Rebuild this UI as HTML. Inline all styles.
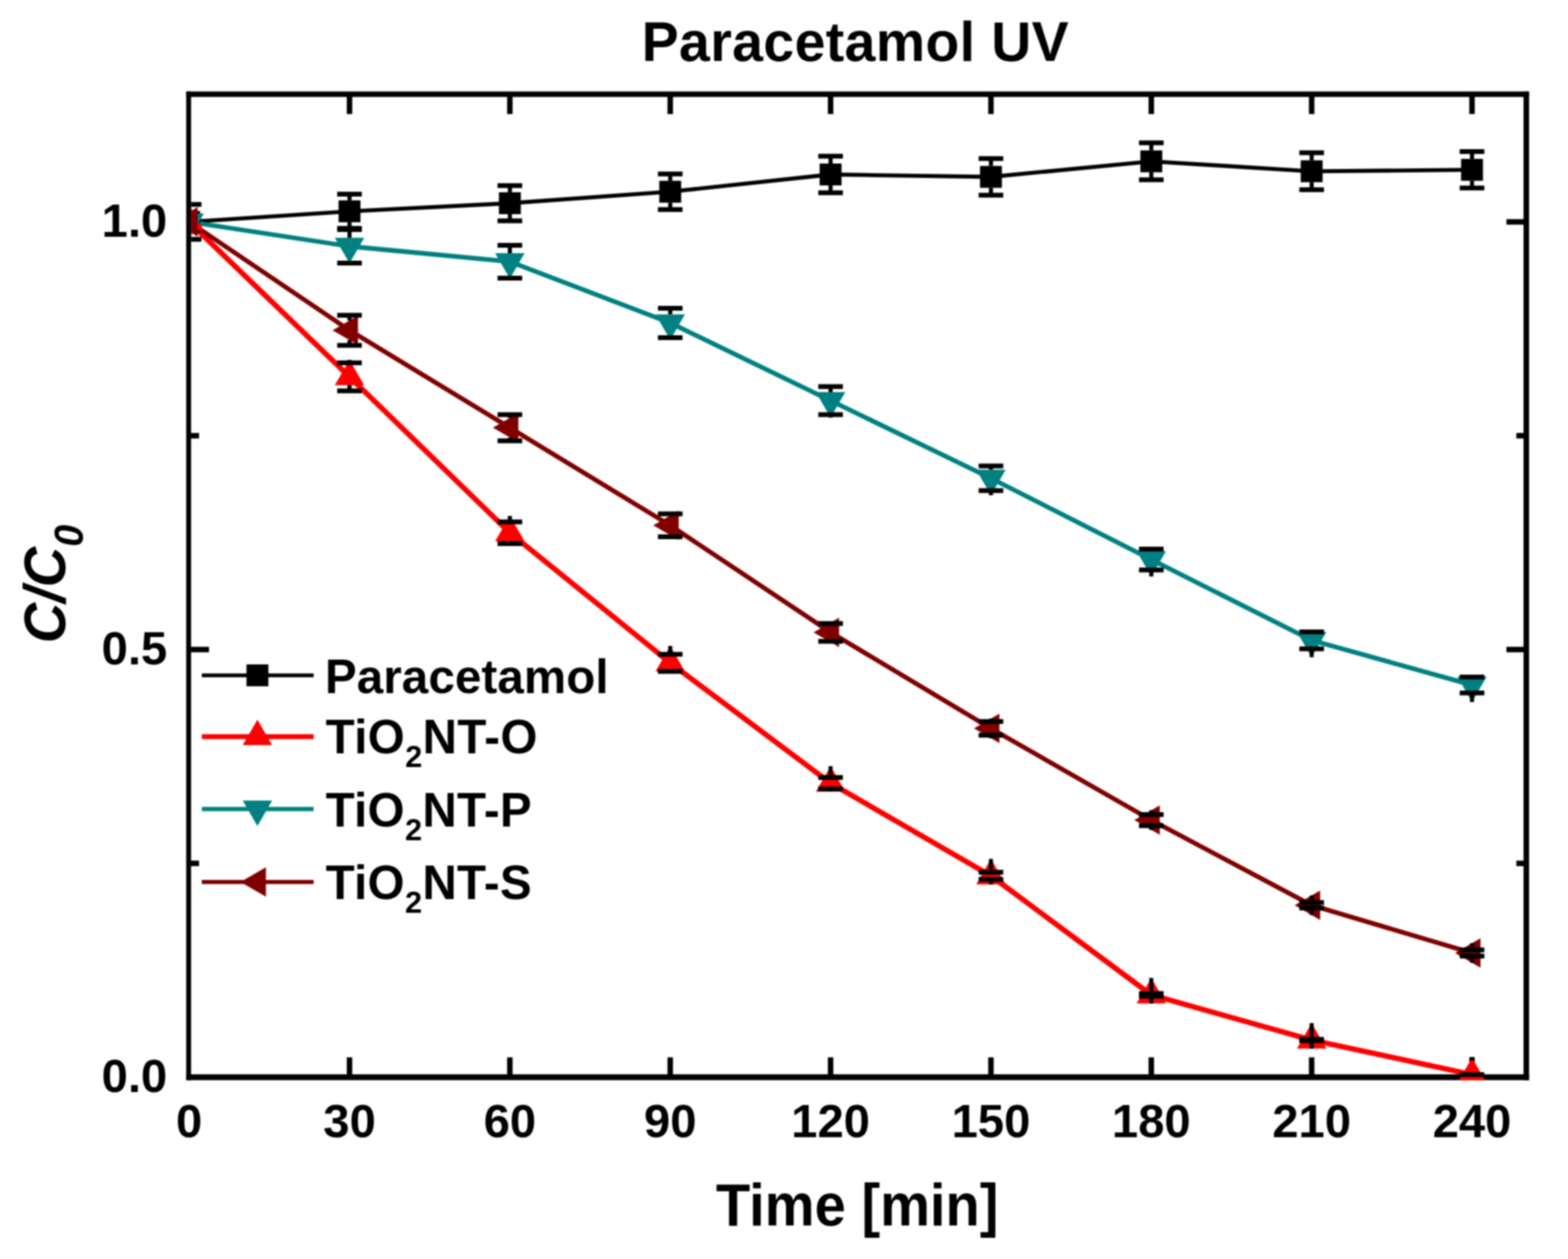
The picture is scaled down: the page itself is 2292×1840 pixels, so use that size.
<!DOCTYPE html>
<html><head><meta charset="utf-8"><title>Paracetamol UV</title>
<style>html,body{margin:0;padding:0;background:#fff;}body{width:2292px;height:1840px;overflow:hidden;}svg{display:block;filter:blur(0.9px);}</style>
</head><body>
<svg width="2292" height="1840" viewBox="0 0 2292 1840">
<defs><clipPath id="pc"><rect x="279.3" y="141.7" width="1947.7" height="1436.8"/></clipPath></defs>
<rect width="2292" height="1840" fill="#fff"/>
<g fill="#000">
<rect x="272.2" y="133.7" width="7.1" height="1445"/>
<rect x="272.2" y="133.7" width="1963" height="8"/>
<rect x="2227" y="133.7" width="8.1" height="1445"/>
<rect x="272.2" y="1570.1" width="1963" height="8.5"/>
</g>
<g stroke="#000" stroke-width="8"><line x1="510.9" y1="1574.3" x2="510.9" y2="1545.3"/><line x1="510.9" y1="137.7" x2="510.9" y2="166.7"/><line x1="745.3" y1="1574.3" x2="745.3" y2="1545.3"/><line x1="745.3" y1="137.7" x2="745.3" y2="166.7"/><line x1="979.7" y1="1574.3" x2="979.7" y2="1545.3"/><line x1="979.7" y1="137.7" x2="979.7" y2="166.7"/><line x1="1214.1" y1="1574.3" x2="1214.1" y2="1545.3"/><line x1="1214.1" y1="137.7" x2="1214.1" y2="166.7"/><line x1="1448.5" y1="1574.3" x2="1448.5" y2="1545.3"/><line x1="1448.5" y1="137.7" x2="1448.5" y2="166.7"/><line x1="1682.9" y1="1574.3" x2="1682.9" y2="1545.3"/><line x1="1682.9" y1="137.7" x2="1682.9" y2="166.7"/><line x1="1917.3" y1="1574.3" x2="1917.3" y2="1545.3"/><line x1="1917.3" y1="137.7" x2="1917.3" y2="166.7"/><line x1="2151.7" y1="1574.3" x2="2151.7" y2="1545.3"/><line x1="2151.7" y1="137.7" x2="2151.7" y2="166.7"/><line x1="276.5" y1="1261.8" x2="291" y2="1261.8"/><line x1="2231" y1="1261.8" x2="2216.5" y2="1261.8"/><line x1="276.5" y1="949.3" x2="305.5" y2="949.3"/><line x1="2231" y1="949.3" x2="2202" y2="949.3"/><line x1="276.5" y1="636.8" x2="291" y2="636.8"/><line x1="2231" y1="636.8" x2="2216.5" y2="636.8"/><line x1="276.5" y1="324.3" x2="305.5" y2="324.3"/><line x1="2231" y1="324.3" x2="2202" y2="324.3"/></g>
<g clip-path="url(#pc)">
<polyline points="276.5,324.3 510.9,308.8 745.3,297 979.7,280.2 1214.1,255 1448.5,258.5 1682.9,235.8 1917.3,250.3 2151.7,248.2" fill="none" stroke="#000000" stroke-width="5.8" stroke-linejoin="round"/>
<polyline points="276.5,324.3 510.9,550.7 745.3,778.7 979.7,968.8 1214.1,1144.6 1448.5,1280 1682.9,1454 1917.3,1520 2151.7,1570.5" fill="none" stroke="#ff0000" stroke-width="7.8" stroke-linejoin="round"/>
<polyline points="276.5,324.3 510.9,360 745.3,382.4 979.7,471.9 1214.1,585.5 1448.5,699 1682.9,817.8 1917.3,935.8 2151.7,1001.1" fill="none" stroke="#008080" stroke-width="6.8" stroke-linejoin="round"/>
<polyline points="276.5,324.3 510.9,482.7 745.3,625.1 979.7,767.8 1214.1,924.2 1448.5,1064.6 1682.9,1198.6 1917.3,1323 2151.7,1392.8" fill="none" stroke="#800000" stroke-width="6.8" stroke-linejoin="round"/>
<rect x="260.5" y="308.3" width="32" height="32" fill="#000000"/>
<rect x="494.9" y="292.8" width="32" height="32" fill="#000000"/>
<rect x="729.3" y="281" width="32" height="32" fill="#000000"/>
<rect x="963.7" y="264.2" width="32" height="32" fill="#000000"/>
<rect x="1198.1" y="239" width="32" height="32" fill="#000000"/>
<rect x="1432.5" y="242.5" width="32" height="32" fill="#000000"/>
<rect x="1666.9" y="219.8" width="32" height="32" fill="#000000"/>
<rect x="1901.3" y="234.3" width="32" height="32" fill="#000000"/>
<rect x="2135.7" y="232.2" width="32" height="32" fill="#000000"/>
<g stroke="#000" stroke-linecap="butt">
<line x1="276.5" y1="298.8" x2="276.5" y2="308.3" stroke-width="6"/><line x1="276.5" y1="340.3" x2="276.5" y2="349.8" stroke-width="6"/><line x1="258.5" y1="298.8" x2="294.5" y2="298.8" stroke-width="7"/><line x1="258.5" y1="349.8" x2="294.5" y2="349.8" stroke-width="7"/>
<line x1="510.9" y1="283.8" x2="510.9" y2="292.8" stroke-width="6"/><line x1="510.9" y1="324.8" x2="510.9" y2="333.8" stroke-width="6"/><line x1="492.9" y1="283.8" x2="528.9" y2="283.8" stroke-width="7"/><line x1="492.9" y1="333.8" x2="528.9" y2="333.8" stroke-width="7"/>
<line x1="745.3" y1="271.3" x2="745.3" y2="281" stroke-width="6"/><line x1="745.3" y1="313" x2="745.3" y2="322.7" stroke-width="6"/><line x1="727.3" y1="271.3" x2="763.3" y2="271.3" stroke-width="7"/><line x1="727.3" y1="322.7" x2="763.3" y2="322.7" stroke-width="7"/>
<line x1="979.7" y1="254.2" x2="979.7" y2="264.2" stroke-width="6"/><line x1="979.7" y1="296.2" x2="979.7" y2="306.2" stroke-width="6"/><line x1="961.7" y1="254.2" x2="997.7" y2="254.2" stroke-width="7"/><line x1="961.7" y1="306.2" x2="997.7" y2="306.2" stroke-width="7"/>
<line x1="1214.1" y1="228.3" x2="1214.1" y2="239" stroke-width="6"/><line x1="1214.1" y1="271" x2="1214.1" y2="281.7" stroke-width="6"/><line x1="1196.1" y1="228.3" x2="1232.1" y2="228.3" stroke-width="7"/><line x1="1196.1" y1="281.7" x2="1232.1" y2="281.7" stroke-width="7"/>
<line x1="1448.5" y1="231.8" x2="1448.5" y2="242.5" stroke-width="6"/><line x1="1448.5" y1="274.5" x2="1448.5" y2="285.2" stroke-width="6"/><line x1="1430.5" y1="231.8" x2="1466.5" y2="231.8" stroke-width="7"/><line x1="1430.5" y1="285.2" x2="1466.5" y2="285.2" stroke-width="7"/>
<line x1="1682.9" y1="208.8" x2="1682.9" y2="219.8" stroke-width="6"/><line x1="1682.9" y1="251.8" x2="1682.9" y2="262.8" stroke-width="6"/><line x1="1664.9" y1="208.8" x2="1700.9" y2="208.8" stroke-width="7"/><line x1="1664.9" y1="262.8" x2="1700.9" y2="262.8" stroke-width="7"/>
<line x1="1917.3" y1="223.3" x2="1917.3" y2="234.3" stroke-width="6"/><line x1="1917.3" y1="266.3" x2="1917.3" y2="277.3" stroke-width="6"/><line x1="1899.3" y1="223.3" x2="1935.3" y2="223.3" stroke-width="7"/><line x1="1899.3" y1="277.3" x2="1935.3" y2="277.3" stroke-width="7"/>
<line x1="2151.7" y1="221.6" x2="2151.7" y2="232.2" stroke-width="6"/><line x1="2151.7" y1="264.2" x2="2151.7" y2="274.8" stroke-width="6"/><line x1="2133.7" y1="221.6" x2="2169.7" y2="221.6" stroke-width="7"/><line x1="2133.7" y1="274.8" x2="2169.7" y2="274.8" stroke-width="7"/>
</g>
<polygon points="276.5,299.5 298,336.7 255,336.7" fill="#ff0000"/>
<polygon points="510.9,525.9 532.4,563.1 489.4,563.1" fill="#ff0000"/>
<polygon points="745.3,753.9 766.8,791.1 723.8,791.1" fill="#ff0000"/>
<polygon points="979.7,944 1001.2,981.2 958.2,981.2" fill="#ff0000"/>
<polygon points="1214.1,1119.8 1235.6,1157 1192.6,1157" fill="#ff0000"/>
<polygon points="1448.5,1255.2 1470,1292.4 1427,1292.4" fill="#ff0000"/>
<polygon points="1682.9,1429.2 1704.4,1466.4 1661.4,1466.4" fill="#ff0000"/>
<polygon points="1917.3,1495.2 1938.8,1532.4 1895.8,1532.4" fill="#ff0000"/>
<polygon points="2151.7,1545.7 2173.2,1582.9 2130.2,1582.9" fill="#ff0000"/>
<g stroke="#000" stroke-linecap="butt">
<line x1="510.9" y1="525.9" x2="510.9" y2="530.2" stroke-width="6"/><line x1="510.9" y1="563.1" x2="510.9" y2="571.2" stroke-width="6"/><line x1="492.9" y1="530.2" x2="528.9" y2="530.2" stroke-width="7"/><line x1="492.9" y1="571.2" x2="528.9" y2="571.2" stroke-width="7"/>
<line x1="745.3" y1="753.9" x2="745.3" y2="762.8" stroke-width="6"/><line x1="745.3" y1="791.1" x2="745.3" y2="794.6" stroke-width="6"/><line x1="727.3" y1="762.8" x2="763.3" y2="762.8" stroke-width="7"/><line x1="727.3" y1="794.6" x2="763.3" y2="794.6" stroke-width="7"/>
<line x1="979.7" y1="944" x2="979.7" y2="956.3" stroke-width="6"/><line x1="961.7" y1="956.3" x2="997.7" y2="956.3" stroke-width="7"/><line x1="961.7" y1="981.3" x2="997.7" y2="981.3" stroke-width="7"/>
<line x1="1214.1" y1="1119.8" x2="1214.1" y2="1136.2" stroke-width="6"/><line x1="1214.1" y1="1153" x2="1214.1" y2="1157" stroke-width="6"/><line x1="1196.1" y1="1136.2" x2="1232.1" y2="1136.2" stroke-width="7"/><line x1="1196.1" y1="1153" x2="1232.1" y2="1153" stroke-width="7"/>
<line x1="1448.5" y1="1255.2" x2="1448.5" y2="1274.8" stroke-width="6"/><line x1="1448.5" y1="1285.2" x2="1448.5" y2="1292.4" stroke-width="6"/><line x1="1430.5" y1="1274.8" x2="1466.5" y2="1274.8" stroke-width="7"/><line x1="1430.5" y1="1285.2" x2="1466.5" y2="1285.2" stroke-width="7"/>
<line x1="1682.9" y1="1429.2" x2="1682.9" y2="1452" stroke-width="6"/><line x1="1682.9" y1="1456" x2="1682.9" y2="1466.4" stroke-width="6"/><line x1="1664.9" y1="1452" x2="1700.9" y2="1452" stroke-width="7"/><line x1="1664.9" y1="1456" x2="1700.9" y2="1456" stroke-width="7"/>
<line x1="1917.3" y1="1495.2" x2="1917.3" y2="1519" stroke-width="6"/><line x1="1917.3" y1="1521" x2="1917.3" y2="1532.4" stroke-width="6"/><line x1="1899.3" y1="1519" x2="1935.3" y2="1519" stroke-width="7"/><line x1="1899.3" y1="1521" x2="1935.3" y2="1521" stroke-width="7"/>
<line x1="2151.7" y1="1544.7" x2="2151.7" y2="1549.7" stroke-width="6"/>
<line x1="2133.7" y1="1570.5" x2="2169.7" y2="1570.5" stroke-width="7"/>
</g>
<polygon points="276.5,349.1 298,311.9 255,311.9" fill="#008080"/>
<polygon points="510.9,384.8 532.4,347.6 489.4,347.6" fill="#008080"/>
<polygon points="745.3,407.2 766.8,370 723.8,370" fill="#008080"/>
<polygon points="979.7,496.7 1001.2,459.5 958.2,459.5" fill="#008080"/>
<polygon points="1214.1,610.3 1235.6,573.1 1192.6,573.1" fill="#008080"/>
<polygon points="1448.5,723.8 1470,686.6 1427,686.6" fill="#008080"/>
<polygon points="1682.9,842.6 1704.4,805.4 1661.4,805.4" fill="#008080"/>
<polygon points="1917.3,960.6 1938.8,923.4 1895.8,923.4" fill="#008080"/>
<polygon points="2151.7,1025.9 2173.2,988.7 2130.2,988.7" fill="#008080"/>
<g stroke="#000" stroke-linecap="butt">
<line x1="510.9" y1="335.5" x2="510.9" y2="347.6" stroke-width="6"/><line x1="492.9" y1="335.5" x2="528.9" y2="335.5" stroke-width="7"/><line x1="492.9" y1="384.5" x2="528.9" y2="384.5" stroke-width="7"/>
<line x1="745.3" y1="358.4" x2="745.3" y2="370" stroke-width="6"/><line x1="745.3" y1="406.4" x2="745.3" y2="407.2" stroke-width="6"/><line x1="727.3" y1="358.4" x2="763.3" y2="358.4" stroke-width="7"/><line x1="727.3" y1="406.4" x2="763.3" y2="406.4" stroke-width="7"/>
<line x1="979.7" y1="450.4" x2="979.7" y2="459.5" stroke-width="6"/><line x1="979.7" y1="493.4" x2="979.7" y2="496.7" stroke-width="6"/><line x1="961.7" y1="450.4" x2="997.7" y2="450.4" stroke-width="7"/><line x1="961.7" y1="493.4" x2="997.7" y2="493.4" stroke-width="7"/>
<line x1="1214.1" y1="565" x2="1214.1" y2="573.1" stroke-width="6"/><line x1="1214.1" y1="606" x2="1214.1" y2="610.3" stroke-width="6"/><line x1="1196.1" y1="565" x2="1232.1" y2="565" stroke-width="7"/><line x1="1196.1" y1="606" x2="1232.1" y2="606" stroke-width="7"/>
<line x1="1448.5" y1="681" x2="1448.5" y2="686.6" stroke-width="6"/><line x1="1448.5" y1="717" x2="1448.5" y2="723.8" stroke-width="6"/><line x1="1430.5" y1="681" x2="1466.5" y2="681" stroke-width="7"/><line x1="1430.5" y1="717" x2="1466.5" y2="717" stroke-width="7"/>
<line x1="1682.9" y1="802.5" x2="1682.9" y2="805.4" stroke-width="6"/><line x1="1682.9" y1="833.1" x2="1682.9" y2="842.6" stroke-width="6"/><line x1="1664.9" y1="802.5" x2="1700.9" y2="802.5" stroke-width="7"/><line x1="1664.9" y1="833.1" x2="1700.9" y2="833.1" stroke-width="7"/>
<line x1="1917.3" y1="948.2" x2="1917.3" y2="960.6" stroke-width="6"/><line x1="1899.3" y1="923.4" x2="1935.3" y2="923.4" stroke-width="7"/><line x1="1899.3" y1="948.2" x2="1935.3" y2="948.2" stroke-width="7"/>
<line x1="2151.7" y1="988.7" x2="2151.7" y2="989.5" stroke-width="6"/><line x1="2151.7" y1="1012.7" x2="2151.7" y2="1025.9" stroke-width="6"/><line x1="2133.7" y1="989.5" x2="2169.7" y2="989.5" stroke-width="7"/><line x1="2133.7" y1="1012.7" x2="2169.7" y2="1012.7" stroke-width="7"/>
</g>
<polygon points="251.7,324.3 288.9,302.8 288.9,345.8" fill="#800000"/>
<polygon points="486.1,482.7 523.3,461.2 523.3,504.2" fill="#800000"/>
<polygon points="720.5,625.1 757.7,603.6 757.7,646.6" fill="#800000"/>
<polygon points="954.9,767.8 992.1,746.3 992.1,789.3" fill="#800000"/>
<polygon points="1189.3,924.2 1226.5,902.7 1226.5,945.7" fill="#800000"/>
<polygon points="1423.7,1064.6 1460.9,1043.1 1460.9,1086.1" fill="#800000"/>
<polygon points="1658.1,1198.6 1695.3,1177.1 1695.3,1220.1" fill="#800000"/>
<polygon points="1892.5,1323 1929.7,1301.5 1929.7,1344.5" fill="#800000"/>
<polygon points="2126.9,1392.8 2164.1,1371.3 2164.1,1414.3" fill="#800000"/>
<g stroke="#000" stroke-linecap="butt">
<line x1="510.9" y1="460.7" x2="510.9" y2="468.4" stroke-width="6"/><line x1="510.9" y1="497" x2="510.9" y2="504.7" stroke-width="6"/><line x1="492.9" y1="460.7" x2="528.9" y2="460.7" stroke-width="7"/><line x1="492.9" y1="504.7" x2="528.9" y2="504.7" stroke-width="7"/>
<line x1="745.3" y1="605.9" x2="745.3" y2="610.8" stroke-width="6"/><line x1="745.3" y1="639.4" x2="745.3" y2="644.3" stroke-width="6"/><line x1="727.3" y1="605.9" x2="763.3" y2="605.9" stroke-width="7"/><line x1="727.3" y1="644.3" x2="763.3" y2="644.3" stroke-width="7"/>
<line x1="979.7" y1="751.1" x2="979.7" y2="753.5" stroke-width="6"/><line x1="979.7" y1="782.1" x2="979.7" y2="784.5" stroke-width="6"/><line x1="961.7" y1="751.1" x2="997.7" y2="751.1" stroke-width="7"/><line x1="961.7" y1="784.5" x2="997.7" y2="784.5" stroke-width="7"/>
<line x1="1214.1" y1="909.9" x2="1214.1" y2="911.2" stroke-width="6"/><line x1="1214.1" y1="937.2" x2="1214.1" y2="938.5" stroke-width="6"/><line x1="1196.1" y1="911.2" x2="1232.1" y2="911.2" stroke-width="7"/><line x1="1196.1" y1="937.2" x2="1232.1" y2="937.2" stroke-width="7"/>
<line x1="1448.5" y1="1050.3" x2="1448.5" y2="1054.6" stroke-width="6"/><line x1="1448.5" y1="1074.6" x2="1448.5" y2="1078.9" stroke-width="6"/><line x1="1430.5" y1="1054.6" x2="1466.5" y2="1054.6" stroke-width="7"/><line x1="1430.5" y1="1074.6" x2="1466.5" y2="1074.6" stroke-width="7"/>
<line x1="1682.9" y1="1184.3" x2="1682.9" y2="1190.5" stroke-width="6"/><line x1="1682.9" y1="1206.7" x2="1682.9" y2="1212.9" stroke-width="6"/><line x1="1664.9" y1="1190.5" x2="1700.9" y2="1190.5" stroke-width="7"/><line x1="1664.9" y1="1206.7" x2="1700.9" y2="1206.7" stroke-width="7"/>
<line x1="1917.3" y1="1308.7" x2="1917.3" y2="1319" stroke-width="6"/><line x1="1917.3" y1="1327" x2="1917.3" y2="1337.3" stroke-width="6"/><line x1="1899.3" y1="1319" x2="1935.3" y2="1319" stroke-width="7"/><line x1="1899.3" y1="1327" x2="1935.3" y2="1327" stroke-width="7"/>
<line x1="2151.7" y1="1378.5" x2="2151.7" y2="1388.3" stroke-width="6"/><line x1="2151.7" y1="1397.3" x2="2151.7" y2="1407.1" stroke-width="6"/><line x1="2133.7" y1="1388.3" x2="2169.7" y2="1388.3" stroke-width="7"/><line x1="2133.7" y1="1397.3" x2="2169.7" y2="1397.3" stroke-width="7"/>
</g>
</g>
<text x="276.5" y="1661.5" font-size="69" text-anchor="middle" font-family="'Liberation Sans', Arial, sans-serif" font-weight="bold">0</text>
<text x="510.9" y="1661.5" font-size="69" text-anchor="middle" font-family="'Liberation Sans', Arial, sans-serif" font-weight="bold">30</text>
<text x="745.3" y="1661.5" font-size="69" text-anchor="middle" font-family="'Liberation Sans', Arial, sans-serif" font-weight="bold">60</text>
<text x="979.7" y="1661.5" font-size="69" text-anchor="middle" font-family="'Liberation Sans', Arial, sans-serif" font-weight="bold">90</text>
<text x="1214.1" y="1661.5" font-size="69" text-anchor="middle" font-family="'Liberation Sans', Arial, sans-serif" font-weight="bold">120</text>
<text x="1448.5" y="1661.5" font-size="69" text-anchor="middle" font-family="'Liberation Sans', Arial, sans-serif" font-weight="bold">150</text>
<text x="1682.9" y="1661.5" font-size="69" text-anchor="middle" font-family="'Liberation Sans', Arial, sans-serif" font-weight="bold">180</text>
<text x="1917.3" y="1661.5" font-size="69" text-anchor="middle" font-family="'Liberation Sans', Arial, sans-serif" font-weight="bold">210</text>
<text x="2151.7" y="1661.5" font-size="69" text-anchor="middle" font-family="'Liberation Sans', Arial, sans-serif" font-weight="bold">240</text>
<text x="244.5" y="1595.9" font-size="69" text-anchor="end" font-family="'Liberation Sans', Arial, sans-serif" font-weight="bold">0.0</text>
<text x="244.5" y="970.9" font-size="69" text-anchor="end" font-family="'Liberation Sans', Arial, sans-serif" font-weight="bold">0.5</text>
<text x="244.5" y="345.9" font-size="69" text-anchor="end" font-family="'Liberation Sans', Arial, sans-serif" font-weight="bold">1.0</text>
<text x="1250" y="88.9" font-size="81" text-anchor="middle" textLength="624" lengthAdjust="spacing" font-family="'Liberation Sans', Arial, sans-serif" font-weight="bold">Paracetamol UV</text>
<text x="1253" y="1791.4" font-size="86.5" text-anchor="middle" textLength="413" lengthAdjust="spacingAndGlyphs" font-family="'Liberation Sans', Arial, sans-serif" font-weight="bold">Time [min]</text>
<text transform="translate(95,853.5) rotate(-90)" font-size="85" text-anchor="middle" textLength="173" lengthAdjust="spacingAndGlyphs" font-style="italic" font-family="'Liberation Sans', Arial, sans-serif" font-weight="bold">C/C<tspan font-size="60" dy="26">0</tspan></text>
<line x1="295" y1="987" x2="458.5" y2="987" stroke="#000000" stroke-width="5.5"/>
<rect x="360.3" y="971" width="32" height="32" fill="#000000"/>
<text x="474.9" y="1012.8" font-size="69.5" textLength="414.7" lengthAdjust="spacing" font-family="'Liberation Sans', Arial, sans-serif" font-weight="bold">Paracetamol</text>
<line x1="295" y1="1076.6" x2="458.5" y2="1076.6" stroke="#ff0000" stroke-width="7.2"/>
<polygon points="376.3,1051.8 397.8,1089 354.8,1089" fill="#ff0000"/>
<text x="475.9" y="1101.2" font-size="69.5" textLength="309.7" lengthAdjust="spacing" font-family="'Liberation Sans', Arial, sans-serif" font-weight="bold">TiO<tspan font-size="45" dy="20">2</tspan><tspan dy="-20">NT-O</tspan></text>
<line x1="295" y1="1182.4" x2="458.5" y2="1182.4" stroke="#008080" stroke-width="6.2"/>
<polygon points="376.3,1207.2 397.8,1170 354.8,1170" fill="#008080"/>
<text x="475.9" y="1207.8" font-size="69.5" textLength="301.3" lengthAdjust="spacing" font-family="'Liberation Sans', Arial, sans-serif" font-weight="bold">TiO<tspan font-size="45" dy="20">2</tspan><tspan dy="-20">NT-P</tspan></text>
<line x1="295" y1="1289" x2="458.5" y2="1289" stroke="#800000" stroke-width="6.2"/>
<polygon points="351.5,1289 388.7,1267.5 388.7,1310.5" fill="#800000"/>
<text x="475.9" y="1314.1" font-size="69.5" textLength="301.3" lengthAdjust="spacing" font-family="'Liberation Sans', Arial, sans-serif" font-weight="bold">TiO<tspan font-size="45" dy="20">2</tspan><tspan dy="-20">NT-S</tspan></text>
</svg>
</body></html>
